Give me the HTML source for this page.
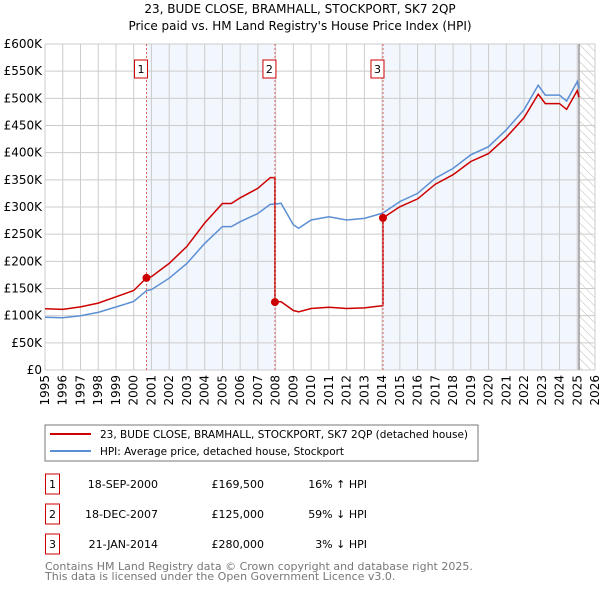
<!DOCTYPE html>
<html><head><meta charset="utf-8"><style>
body{margin:0;background:#fff;font-family:"DejaVu Sans","Liberation Sans",sans-serif;}
svg text{font-family:"DejaVu Sans","Liberation Sans",sans-serif;}
</style></head><body>
<svg id="c" width="600" height="590" xmlns="http://www.w3.org/2000/svg">
<defs><pattern id="hatch" width="6" height="6" patternUnits="userSpaceOnUse" patternTransform="rotate(-45)"><line x1="0" y1="0" x2="0" y2="6" stroke="#bbb" stroke-width="1"/></pattern></defs>
<text x="300" y="13" text-anchor="middle" font-size="12">23, BUDE CLOSE, BRAMHALL, STOCKPORT, SK7 2QP</text>
<text x="300" y="30" text-anchor="middle" font-size="12">Price paid vs. HM Land Registry's House Price Index (HPI)</text>
<g id="plot"></g>
<rect x="45" y="425" width="433" height="36" fill="#fff" stroke="#777"/>
<line x1="50" y1="434" x2="91" y2="434" stroke="#cc0000" stroke-width="2"/>
<text x="100" y="438" font-size="10.5" textLength="368" lengthAdjust="spacingAndGlyphs">23, BUDE CLOSE, BRAMHALL, STOCKPORT, SK7 2QP (detached house)</text>
<line x1="50" y1="451" x2="91" y2="451" stroke="#5b8fd4" stroke-width="2"/>
<text x="100" y="455" font-size="10.5" textLength="244" lengthAdjust="spacingAndGlyphs">HPI: Average price, detached house, Stockport</text>
<g id="table" font-size="11"></g>
<text x="45" y="570" font-size="11" fill="#777">Contains HM Land Registry data © Crown copyright and database right 2025.</text>
<text x="45" y="580" font-size="11" fill="#777">This data is licensed under the Open Government Licence v3.0.</text>
</svg>
<script>
const hpiYears=[1995,1996,1997,1998,1999,2000,2000.72,2001,2002,2003,2004,2005,2005.5,2006,2007,2007.7,2007.96,2008.3,2009,2009.3,2010,2011,2012,2013,2014.05,2015,2016,2017,2018,2019,2020,2021,2022,2022.8,2023.2,2024,2024.4,2025,2025.1];
const hpiValues=[97,96,100,106,116,126,146,148,169,196,233,264,264,273,288,305,305,307,267,261,276,282,276,279,289,310,325,353,371,396,411,442,479,524,506,506,495,531,518];
const saleYears=[2000.72,2007.96,2014.05];
const salePrices=[169.5,125,280];
const saleLabels=['1','2','3'];
const saleDates=['18-SEP-2000','18-DEC-2007','21-JAN-2014'];
const salePriceText=['£169,500','£125,000','£280,000'];
const saleHpiText=['16% ↑ HPI','59% ↓ HPI','3% ↓ HPI'];
const yTicks=[0,50,100,150,200,250,300,350,400,450,500,550,600];
const xTicks=[1995,1996,1997,1998,1999,2000,2001,2002,2003,2004,2005,2006,2007,2008,2009,2010,2011,2012,2013,2014,2015,2016,2017,2018,2019,2020,2021,2022,2023,2024,2025,2026];
const L=45,R=595,T=44,B=370,X0=1995,X1=2026,Ymax=600,dataEnd=2025.1;
const X=v=>L+(v-X0)/(X1-X0)*(R-L), Y=v=>B-v/Ymax*(B-T);
const NS='http://www.w3.org/2000/svg', plot=document.getElementById('plot');
function mk(tag,at,parent){const e=document.createElementNS(NS,tag);for(const k in at)e.setAttribute(k,at[k]);(parent||plot).appendChild(e);return e;}
function hpiAt(y){for(let i=0;i<hpiYears.length-1;i++){if(y<=hpiYears[i+1]){const t=(y-hpiYears[i])/(hpiYears[i+1]-hpiYears[i]);return hpiValues[i]+t*(hpiValues[i+1]-hpiValues[i]);}}return hpiValues[hpiValues.length-1];}
let e;
e=mk('rect',{x:L,y:T,width:R-L,height:B-T,fill:'#fff'});

e=mk('rect',{x:X(saleYears[0]),y:T,width:X(saleYears[1])-X(saleYears[0]),height:B-T,fill:'#f2f6fd'});

e=mk('rect',{x:X(saleYears[2]),y:T,width:X(dataEnd)-X(saleYears[2]),height:B-T,fill:'#f2f6fd'});

e=mk('rect',{x:X(dataEnd),y:T,width:R-X(dataEnd),height:B-T,fill:'url(#hatch)'});

yTicks.forEach(v=>{e=mk('line',{x1:L,x2:R,y1:Y(v),y2:Y(v),stroke:'#ccc'});

e=mk('text',{x:L-3,y:Y(v)+4,'text-anchor':'end','font-size':12});e.textContent='£'+(v?v+'K':'0');
});
xTicks.forEach(v=>{e=mk('line',{x1:X(v),x2:X(v),y1:T,y2:B,stroke:'#ccc'});

e=mk('text',{x:0,y:0,'text-anchor':'end','font-size':12,transform:`translate(${X(v)+4},${B+5}) rotate(-90)`});e.textContent=v;
});
e=mk('line',{x1:X(dataEnd),x2:X(dataEnd),y1:T,y2:B,stroke:'#999','stroke-width':1.5});

let d=hpiYears.map((y,i)=>(i?'L':'M')+X(y).toFixed(1)+','+Y(hpiValues[i]).toFixed(1)).join('');
e=mk('path',{d:d,fill:'none',stroke:'#5b8fd4','stroke-width':1.5});

function ratioAt(y){let k=0;for(let i=0;i<saleYears.length;i++)if(y>=saleYears[i])k=i;return salePrices[k]/hpiAt(saleYears[k]);}
let pts=[];
const allYears=hpiYears.concat(saleYears).sort((a,b)=>a-b);
allYears.forEach(y=>{
 const idx=saleYears.indexOf(y);
 if(idx>0){pts.push([y,hpiAt(y)*salePrices[idx-1]/hpiAt(saleYears[idx-1])]);}
 pts.push([y,hpiAt(y)*ratioAt(y)]);
});
d=pts.map((p,i)=>(i?'L':'M')+X(p[0]).toFixed(1)+','+Y(p[1]).toFixed(1)).join('');
e=mk('path',{d:d,fill:'none',stroke:'#cc0000','stroke-width':1.5});

saleYears.forEach((y,i)=>{
 e=mk('line',{x1:X(y),x2:X(y),y1:T,y2:B,stroke:'#e06060','stroke-dasharray':'2,2'});
 
 e=mk('circle',{cx:X(y),cy:Y(salePrices[i]),r:4,fill:'#cc0000'});
 
 e=mk('rect',{x:X(y)-12,y:60,width:13,height:18,fill:'#fff',stroke:'#cc0000'});
 
 e=mk('text',{x:X(y)-5.5,y:73,'text-anchor':'middle','font-size':11});e.textContent=saleLabels[i];
 
});
const tb=document.getElementById('table');
saleYears.forEach((y,i)=>{
 const cy=483+i*30;
 e=mk('rect',{x:45.5,y:cy-9,width:14,height:20,fill:'#fff',stroke:'#cc0000'},tb);
 
 e=mk('text',{x:52.5,y:cy+5,'text-anchor':'middle'},tb);e.textContent=saleLabels[i];
 
 e=mk('text',{x:158,y:cy+5,'text-anchor':'end'},tb);e.textContent=saleDates[i];
 
 e=mk('text',{x:264,y:cy+5,'text-anchor':'end'},tb);e.textContent=salePriceText[i];
 
 e=mk('text',{x:367,y:cy+5,'text-anchor':'end'},tb);e.textContent=saleHpiText[i];
 
});
</script>
</body></html>
